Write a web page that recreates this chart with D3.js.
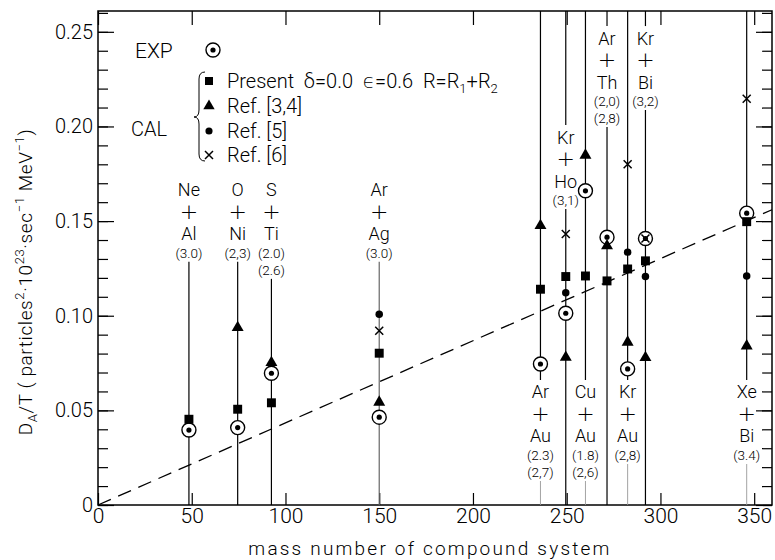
<!DOCTYPE html>
<html>
<head>
<meta charset="utf-8">
<script src="https://cdn.jsdelivr.net/npm/d3@7"></script>
<style>
  body { margin: 0; background: #fff; }
  svg { font-family: Roboto, "DejaVu Sans", sans-serif; font-weight: 300; }
</style>
</head>
<body>
<svg id="chart" width="775" height="560"></svg>
<script>
// compound systems (projectile + target), mass number of compound system
const systems = ['Ne+Al', 'O+Ni', 'S+Ti', 'Ar+Ag', 'Ar+Au', 'Kr+Ho', 'Cu+Au', 'Ar+Th', 'Kr+Au', 'Kr+Bi', 'Xe+Bi'];
const mass = [48.5, 74.5, 92.5, 150, 236, 249.5, 260, 271.5, 282.5, 292, 346];

// D_A/T values
const exp = [0.0396, 0.0409, 0.0696, 0.0464, 0.0745, 0.1013, 0.166, 0.1415, 0.0719, 0.1408, 0.1542];
const present = [0.0453, 0.0506, 0.054, 0.0802, 0.114, 0.1207, 0.121, 0.1184, 0.1247, 0.129, 0.1497];
const ref34 = [null, 0.0937, 0.0752, 0.0543, 0.1476, 0.078, 0.1848, 0.1369, 0.086, 0.0779, 0.084];
const ref5 = [null, null, null, 0.1008, null, 0.1122, null, null, 0.1336, 0.1207, 0.121];
const ref6 = [null, null, null, 0.0921, null, 0.1432, null, null, 0.18, 0.1408, 0.2146];

// labels next to each system line
const labelParts = [
  ['Ne', 'Al', '(3.0)'], ['O', 'Ni', '(2,3)'], ['S', 'Ti', '(2.0)', '(2.6)'], ['Ar', 'Ag', '(3.0)'],
  ['Ar', 'Au', '(2.3)', '(2,7)'], ['Kr', 'Ho', '(3,1)'], ['Cu', 'Au', '(1.8)', '(2,6)'],
  ['Ar', 'Th', '(2,0)', '(2,8)'], ['Kr', 'Au', '(2,8)'], ['Kr', 'Bi', '(3,2)'], ['Xe', 'Bi', '(3.4)']
];
const labelAt = [0.1665, 0.1665, 0.1665, 0.1665, 0.0597, 0.1944, 0.0597, 0.2467, 0.0597, 0.2467, 0.0597];
const lineFromTop = [false, false, false, false, true, true, true, true, true, true, true];

// dashed guide line
const fitX = [0, 359.5];
const fitY = [0, 0.156];

const xTicks = [0, 50, 100, 150, 200, 250, 300, 350];
const yMajor = [0, 0.05, 0.10, 0.15, 0.20, 0.25];
const yMinor = d3.range(0, 0.2601, 0.01);

const margin = {top: 11, right: 3, bottom: 55, left: 98};
const width = 775 - margin.left - margin.right;
const height = 560 - margin.top - margin.bottom;

const svg = d3.select('#chart');
const g = svg.append('g').attr('transform', `translate(${margin.left},${margin.top})`);

const x = d3.scaleLinear().domain([0, 359.5]).range([0, width]);
const y = d3.scaleLinear().domain([0, 0.261]).range([height, 0]);

// frame
g.append('rect')
  .attr('width', width).attr('height', height)
  .attr('fill', 'none').attr('stroke', '#000').attr('stroke-width', 1.5);

function styleAxis(sel) {
  sel.select('.domain').remove();
  sel.selectAll('line').attr('stroke', '#000').attr('stroke-width', 1.2);
  sel.selectAll('text').attr('fill', '#000').style('font-family', 'Roboto, sans-serif').style('font-weight', 300);
}

// left axis: minor and major ticks pointing inwards
g.append('g').call(d3.axisLeft(y).tickValues(yMinor).tickSize(-10).tickFormat('')).call(styleAxis);
g.append('g').call(d3.axisLeft(y).tickValues(yMajor).tickSize(-16).tickPadding(6)
    .tickFormat(d => d === 0 ? '0' : d3.format('.2f')(d)))
  .call(styleAxis)
  .selectAll('text').attr('font-size', 20).attr('x', -5);

// right axis
g.append('g').attr('transform', `translate(${width},0)`)
  .call(d3.axisRight(y).tickValues(yMinor).tickSize(-10).tickFormat('')).call(styleAxis);
g.append('g').attr('transform', `translate(${width},0)`)
  .call(d3.axisRight(y).tickValues(yMajor).tickSize(-16).tickFormat('')).call(styleAxis);

// bottom axis
g.append('g').attr('transform', `translate(0,${height})`)
  .call(d3.axisBottom(x).tickValues(xTicks).tickSize(-12).tickPadding(3).tickFormat(d3.format('d')))
  .call(styleAxis)
  .selectAll('text').attr('font-size', 21).attr('dy', '0.72em');

// top axis
g.append('g')
  .call(d3.axisTop(x).tickValues(xTicks).tickSize(-14).tickFormat('')).call(styleAxis);

// axis titles
svg.append('text')
  .attr('x', 430).attr('y', 555)
  .attr('text-anchor', 'middle')
  .attr('font-size', 19).attr('letter-spacing', 2.2)
  .text('mass number of compound system');

const yt = svg.append('text')
  .attr('transform', 'translate(32,282) rotate(-90)')
  .attr('text-anchor', 'middle')
  .attr('font-size', 19).attr('letter-spacing', 0.6);
yt.append('tspan').text('D');
yt.append('tspan').attr('font-size', 13).attr('dy', 5).text('A');
yt.append('tspan').attr('dy', -5).text('/T ( particles');
yt.append('tspan').attr('font-size', 13).attr('dy', -8).text('2');
yt.append('tspan').attr('dy', 8).text('·10');
yt.append('tspan').attr('font-size', 13).attr('dy', -8).text('23');
yt.append('tspan').attr('dy', 8).text('·sec');
yt.append('tspan').attr('font-size', 13).attr('dy', -8).text('−1');
yt.append('tspan').attr('dy', 8).text(' MeV');
yt.append('tspan').attr('font-size', 13).attr('dy', -8).text('−1');
yt.append('tspan').attr('dy', 8).text(')');

// labels and vertical lines for each system
const lineOffsets = [0, 21, 44, 63, 80];
systems.forEach((s, i) => {
  const parts = [labelParts[i][0], '+', labelParts[i][1]].concat(labelParts[i].slice(2));
  const cx = x(mass[i]);
  const top = y(labelAt[i]);
  const bottom = top + lineOffsets[parts.length - 1];
  const lg = g.append('g');
  parts.forEach((p, k) => {
    lg.append('text')
      .attr('x', cx).attr('y', top + lineOffsets[k])
      .attr('dy', '0.36em')
      .attr('text-anchor', 'middle')
      .attr('fill', '#000')
      .attr('font-size', k === 1 ? 22 : (k < 3 ? 18 : 13.5))
      .attr('font-family', k === 1 ? '"DejaVu Sans", sans-serif' : null)
      .attr('font-weight', k === 1 ? 200 : 300)
      .text(p);
  });
  const labelBelow = labelAt[i] < 0.1;
  if (lineFromTop[i]) {
    g.append('line')
      .attr('x1', cx).attr('x2', cx).attr('y1', 0).attr('y2', top - 12)
      .attr('stroke', '#000').attr('stroke-width', 1.2);
  }
  g.append('line')
    .attr('x1', cx).attr('x2', cx).attr('y1', bottom + 9).attr('y2', height)
    .attr('stroke', labelBelow ? '#999' : (i === 3 ? '#666' : '#000'))
    .attr('stroke-width', labelBelow ? 0.9 : 1.2);
});

// dashed guide line
g.append('line')
  .attr('x1', x(fitX[0])).attr('y1', y(fitY[0]))
  .attr('x2', x(fitX[1])).attr('y2', y(fitY[1]))
  .attr('stroke', '#000').attr('stroke-width', 1.3)
  .attr('stroke-dasharray', '14,8');

// markers
const expMark = (sel) => {
  sel.append('circle').attr('r', 7).attr('fill', '#fff').attr('stroke', '#000').attr('stroke-width', 1.4);
  sel.append('circle').attr('r', 2.6).attr('fill', '#000');
};
const sqPath = d3.symbol(d3.symbolSquare, 80)();
const triPath = d3.symbol(d3.symbolTriangle, 62)();
const dotPath = d3.symbol(d3.symbolCircle, 44)();
const crossMark = (sel) => {
  sel.append('path').attr('d', 'M-4,-4L4,4M-4,4L4,-4')
    .attr('stroke', '#000').attr('stroke-width', 1.5).attr('fill', 'none');
};

function plotSeries(values, draw) {
  values.forEach((v, i) => {
    if (v == null) return;
    const m = g.append('g').attr('transform', `translate(${x(mass[i])},${y(v)})`);
    draw(m);
  });
}
plotSeries(exp, expMark);
plotSeries(present, m => m.append('path').attr('d', sqPath).attr('fill', '#000'));
plotSeries(ref34, m => m.append('path').attr('d', triPath).attr('fill', '#000'));
plotSeries(ref5, m => m.append('path').attr('d', dotPath).attr('fill', '#000'));
plotSeries(ref6, crossMark);

// legend
const leg = svg.append('g');
leg.append('text').attr('x', 135).attr('y', 58).attr('font-size', 21).text('EXP');
expMark(leg.append('g').attr('transform', 'translate(213,50)'));
leg.append('text').attr('x', 131).attr('y', 136).attr('font-size', 20).text('CAL');
leg.append('path')
  .attr('d', 'M205,72 Q199,72 199,79 L199,110 Q199,117 194,117 Q199,117 199,124 L199,154 Q199,161 205,161')
  .attr('fill', 'none').attr('stroke', '#000').attr('stroke-width', 1);
const legItems = [
  {yy: 81, txt: 'Present  δ=0.0  ϵ=0.6  R=R'},
  {yy: 106, txt: 'Ref. [3,4]'},
  {yy: 131, txt: 'Ref. [5]'},
  {yy: 155, txt: 'Ref. [6]'}
];
leg.append('path').attr('transform', 'translate(209,81)').attr('d', d3.symbol(d3.symbolSquare, 64)()).attr('fill', '#000');
leg.append('path').attr('transform', 'translate(209,106)').attr('d', d3.symbol(d3.symbolTriangle, 56)()).attr('fill', '#000');
leg.append('path').attr('transform', 'translate(209,131)').attr('d', d3.symbol(d3.symbolCircle, 40)()).attr('fill', '#000');
crossMark(leg.append('g').attr('transform', 'translate(209,155)'));
legItems.forEach((it, k) => {
  const t = leg.append('text').attr('x', 227).attr('y', it.yy + 7)
    .attr('font-size', 20).style('white-space', 'pre').text(it.txt);
  if (k === 0) {
    t.append('tspan').attr('font-size', 13).attr('dy', 5).text('1');
    t.append('tspan').attr('dy', -5).text('+R');
    t.append('tspan').attr('font-size', 13).attr('dy', 5).text('2');
  }
});
</script>
</body>
</html>
